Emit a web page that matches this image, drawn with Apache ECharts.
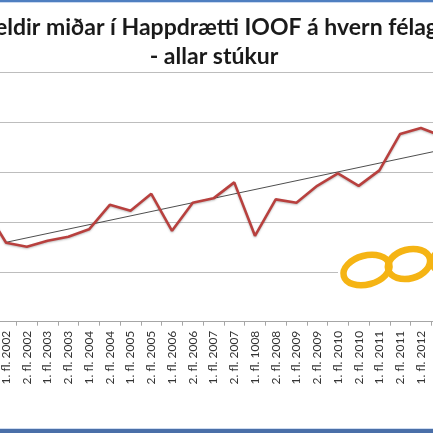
<!DOCTYPE html>
<html>
<head>
<meta charset="utf-8">
<script src="https://cdn.jsdelivr.net/npm/echarts@6/dist/echarts.min.js"></script>
<style>
html,body{margin:0;padding:0;background:#fff;overflow:hidden;width:433px;height:433px;position:relative;}
#c{position:absolute;left:-25px;top:0;width:477px;height:433px;}
</style>
</head>
<body>
<div id="c"></div>
<script>
var titleLine1 = 'Seldir miðar í Happdrætti IOOF á hvern félaga';
var titleLine2 = '- allar stúkur';
var categories = ['2. fl. 2001','1. fl. 2002','2. fl. 2002','1. fl. 2003','2. fl. 2003','1. fl. 2004','2. fl. 2004','1. fl. 2005','2. fl. 2005','1. fl. 2006','2. fl. 2006','1. fl. 2007','2. fl. 2007','1. fl. 1008','2. fl. 2008','1. fl. 2009','2. fl. 2009','1. fl. 2010','2. fl. 2010','1. fl. 2011','2. fl. 2011','1. fl. 2012','2. fl. 2012'];
var salesValues = [2.26,1.58,1.50,1.62,1.70,1.85,2.34,2.22,2.56,1.82,2.38,2.47,2.79,1.72,2.45,2.38,2.72,2.97,2.72,3.03,3.76,3.88,3.72];
var trendValues = [null,1.59,null,null,null,null,null,null,null,null,null,null,null,null,null,null,null,null,null,null,null,null,3.44];
var yTicks = {min:0, max:5, interval:1};

var OX = 25; // chart div is shifted left by this many pixels
var chart = echarts.init(document.getElementById('c'), null, {renderer:'canvas'});
chart.setOption({
  animation:false,
  backgroundColor:'#fff',
  grid:{left:0, right:0, top:72, bottom:111.3, containLabel:false},
  xAxis:{
    type:'category',
    data:categories,
    boundaryGap:true,
    axisLine:{show:true, lineStyle:{color:'#a6a6a6', width:1}},
    axisTick:{show:true, length:4, lineStyle:{color:'#a6a6a6'}},
    axisLabel:{interval:0, rotate:90, margin:9, fontFamily:'Lato', fontSize:12, color:'#333'},
    splitLine:{show:false}
  },
  yAxis:{
    type:'value',
    min:yTicks.min, max:yTicks.max, interval:yTicks.interval,
    axisLine:{show:false}, axisTick:{show:false}, axisLabel:{show:false},
    splitLine:{show:true, lineStyle:{color:'#bdbdbd', width:1}}
  },
  series:[
    {
      type:'line', data:salesValues, symbol:'none', z:3,
      lineStyle:{color:'#b8403e', width:2.6, shadowColor:'rgba(0,0,0,0.25)', shadowBlur:2, shadowOffsetY:1}
    },
    {
      type:'line', data:trendValues, connectNulls:true, symbol:'none', z:2,
      lineStyle:{color:'#3a3a3a', width:0.9}
    }
  ],
  graphic:[
    {type:'rect', shape:{x:0,y:0,width:477,height:2}, style:{fill:'#4f7fc0'}, z:100},
    {type:'rect', shape:{x:0,y:2,width:477,height:1}, style:{fill:'#c9d8ef'}, z:100},
    {type:'rect', shape:{x:0,y:428,width:477,height:1}, style:{fill:'#cfdcf0'}, z:100},
    {type:'rect', shape:{x:0,y:429,width:477,height:4}, style:{fill:'#4a6fa8'}, z:100},
    {type:'text', x:216+OX, y:28, style:{text:titleLine1, font:'bold 23px Lato', fill:'#1a1a1a', align:'center', verticalAlign:'middle'}, z:100},
    {type:'text', x:214+OX, y:57, style:{text:titleLine2, font:'bold 23px Lato', fill:'#1a1a1a', align:'center', verticalAlign:'middle'}, z:100},
    {type:'rect', shape:{x:338+OX,y:240,width:120,height:58}, style:{fill:'#fff'}, z:50},
    {type:'ellipse', shape:{cx:366.5+OX,cy:270,rx:23.5,ry:14.5}, rotation:0.26, originX:366.5+OX, originY:270, style:{fill:'none', stroke:'#f5b414', lineWidth:6.5}, z:51},
    {type:'ellipse', shape:{cx:409+OX,cy:264,rx:21.5,ry:14.5}, rotation:0.26, originX:409+OX, originY:264, style:{fill:'none', stroke:'#f5b414', lineWidth:6.5}, z:51},
    {type:'ellipse', shape:{cx:453+OX,cy:259,rx:21,ry:14}, rotation:0.26, originX:453+OX, originY:259, style:{fill:'none', stroke:'#f5b414', lineWidth:6.5}, z:51}
  ]
});
</script>
</body>
</html>
